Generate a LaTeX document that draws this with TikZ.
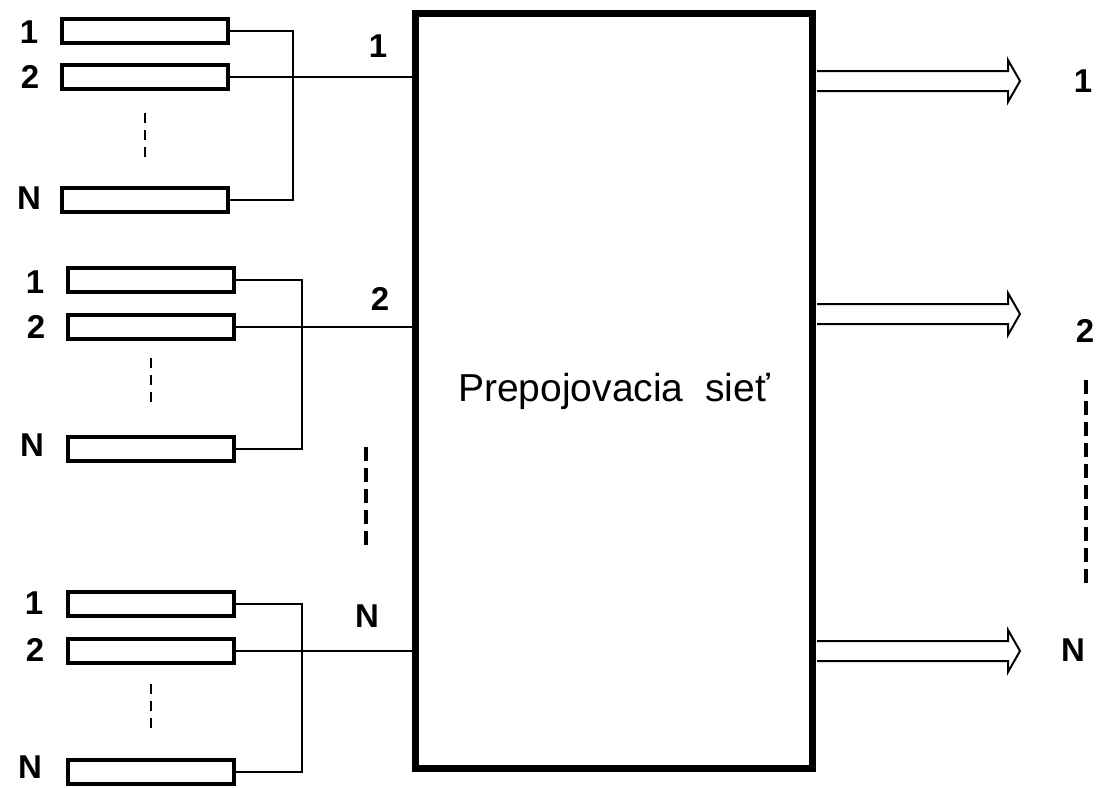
\documentclass[tikz,border=0pt]{standalone}
\usepackage{fontspec}
\setmainfont{Liberation Sans}
\begin{document}
\begin{tikzpicture}[x=1pt,y=-1pt,
  cell/.style={draw,line width=4pt,minimum width=166pt,minimum height=24pt,inner sep=0pt},
  lbl/.style={font=\fontsize{33}{38}\selectfont\bfseries,inner sep=0pt},
  wire/.style={line width=2pt},
  thindash/.style={line width=2pt,dash pattern=on 10pt off 7pt},
  thickdash/.style={line width=4.5pt,dash pattern=on 14pt off 7pt},
  outarrow/.style={draw,fill=white,line width=2pt,line join=miter}]
\useasboundingbox (0,0) rectangle (1097,787);

% main box
\node[draw,line width=7pt,minimum width=397pt,minimum height=755pt,inner sep=0pt,
      font=\fontsize{39}{46}\selectfont] (main) at (614,391) {Prepojovacia\ \ sieť};

% group 1
\node[cell] (a1) at (145,30.5) {};
\node[cell] (a2) at (145,76.5) {};
\node[cell] (aN) at (145,200) {};
\node[lbl] (la1) at (29,32) {1};
\node[lbl] (la2) at (30,77) {2};
\node[lbl] (laN) at (29,198) {N};
\coordinate (abus) at (293,115);
\draw[wire] (a1.east) -| (abus) |- (aN.east);
\draw[wire] (a2.east) -- (a2.east -| main.west);
\draw[thindash] (145,113) -- (145,158);
\node[lbl] (in1) at (378,46) {1};

% group 2
\node[cell] (b1) at (151,280) {};
\node[cell] (b2) at (151,326.5) {};
\node[cell] (bN) at (151,449) {};
\node[lbl] (lb1) at (35,282) {1};
\node[lbl] (lb2) at (36,327) {2};
\node[lbl] (lbN) at (32,445) {N};
\coordinate (bbus) at (302,360);
\draw[wire] (b1.east) -| (bbus) |- (bN.east);
\draw[wire] (b2.east) -- (b2.east -| main.west);
\draw[thindash] (151,358) -- (151,405);
\node[lbl] (in2) at (380,299) {2};

% group N
\node[cell] (c1) at (151,603.5) {};
\node[cell] (c2) at (151,650.5) {};
\node[cell] (cN) at (151,771.5) {};
\node[lbl] (lc1) at (34,603) {1};
\node[lbl] (lc2) at (35,650) {2};
\node[lbl] (lcN) at (30,767) {N};
\coordinate (cbus) at (302,690);
\draw[wire] (c1.east) -| (cbus) |- (cN.east);
\draw[wire] (c2.east) -- (c2.east -| main.west);
\draw[thindash] (151,684) -- (151,730);
\node[lbl] (inN) at (367,616) {N};

\draw[thickdash] (366,447) -- (366,546);

% outputs
\foreach \y in {81,314,651} {
  \draw[outarrow] (817,\y-10) -- (1008,\y-10) -- (1008,\y-21) -- (1020,\y)
     -- (1008,\y+21) -- (1008,\y+10) -- (817,\y+10);
}
\node[lbl] (out1) at (1083,81) {1};
\node[lbl] (out2) at (1085,331) {2};
\node[lbl] (outN) at (1073,650) {N};
\draw[thickdash] (1086,380) -- (1086,583);
\end{tikzpicture}
\end{document}
